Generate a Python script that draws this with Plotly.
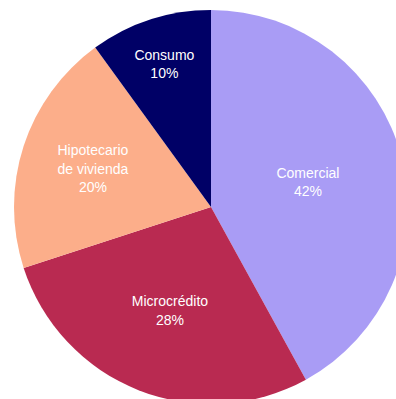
import plotly.graph_objects as go

labels = ["Comercial", "Microcrédito", "Hipotecario<br>de vivienda", "Consumo"]
values = [42, 28, 20, 10]
colors = ["#A99CF5", "#B92A51", "#FCAE8A", "#000066"]

fig = go.Figure(go.Pie(
    labels=labels,
    values=values,
    sort=False,
    direction="clockwise",
    rotation=0,
    marker=dict(colors=colors, line=dict(width=0)),
    texttemplate="%{label}<br>%{value}%",
    textposition="inside",
    insidetextorientation="horizontal",
    textfont=dict(family="Liberation Sans, Arial", size=14, color="white"),
    hoverinfo="label+percent",
))

# the pie in the original runs off the right and bottom edges
fig.update_layout(
    width=422, height=414,
    margin=dict(l=14, r=14, t=10, b=10),
    showlegend=False,
    paper_bgcolor="white",
    plot_bgcolor="white",
)

fig.write_html("out.html", config={"displayModeBar": False},
               post_script="document.body.style.margin='0';document.body.style.overflow='hidden';")
